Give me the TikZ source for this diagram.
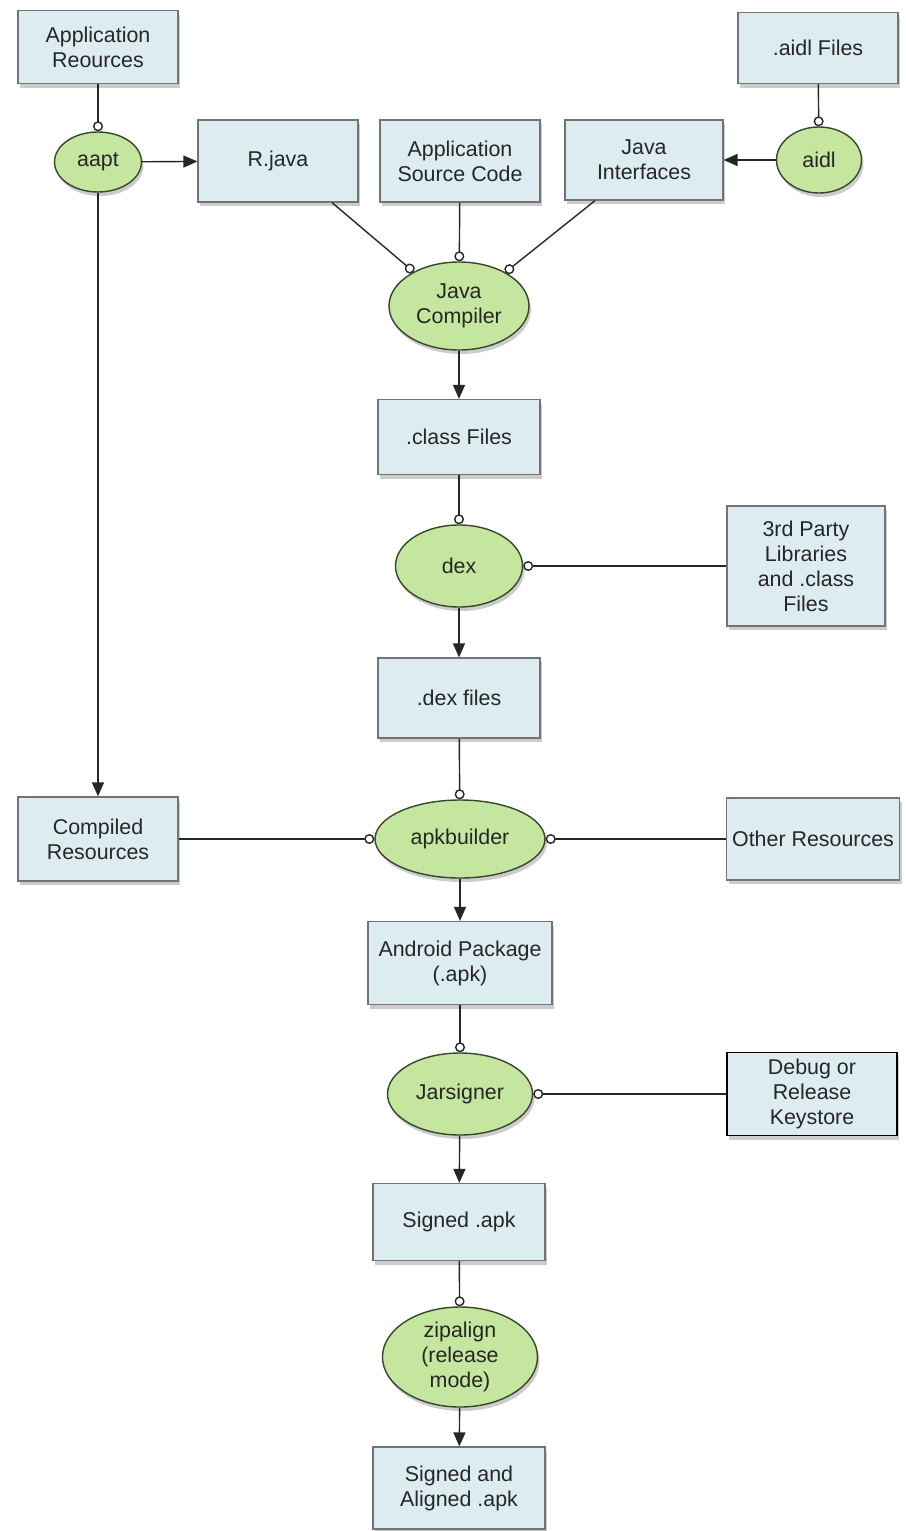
\documentclass[tikz,border=0pt]{standalone}
\usepackage{fontspec}
\setmainfont{Liberation Sans}
\usetikzlibrary{positioning, arrows.meta, shapes, shadows}

\definecolor{boxblue}{RGB}{221,236,240}
\definecolor{toolgreen}{RGB}{196,230,158}
\definecolor{tooledge}{RGB}{55,70,45}

\begin{document}
\begin{tikzpicture}[x=0.5pt, y=-0.5pt,
    every node/.style={font=\fontsize{10.7}{12.5}\selectfont, text=black!85, align=center},
    file/.style={draw=black!55, fill=boxblue, line width=0.6pt, minimum width=80pt, minimum height=40pt, inner sep=1pt,
      drop shadow={opacity=0.4, shadow xshift=1pt, shadow yshift=-2pt}},
    tool/.style={ellipse, draw=tooledge, fill=toolgreen, line width=0.7pt, inner sep=0pt,
      drop shadow={opacity=0.4, shadow xshift=1pt, shadow yshift=-2pt}},
    flow/.style={draw=black!85, line width=0.7pt, -{Triangle[length=7pt, width=6pt]}},
    feed/.style={draw=black!85, line width=0.7pt, -{Circle[open, length=5pt]}}]
  \useasboundingbox (0,0) rectangle (905,1531);

  % sources at the top
  \node[file, minimum height=36.5pt] (appres) at (98,47) {Application\\Reources};
  \node[file, minimum height=35.5pt] (aidlfiles) at (818,48) {.aidl Files};
  \node[tool, minimum width=43.5pt, minimum height=30pt] (aapt) at (98,162) {aapt};
  \node[file, minimum height=41pt] (rjava) at (278,161) {R.java};
  \node[file, minimum height=41pt] (src) at (460,161) {Application\\Source Code};
  \node[file, minimum width=79pt, minimum height=40pt] (jiface) at (644,160) {Java\\Interfaces};
  \node[tool, minimum width=42.5pt, minimum height=33pt] (aidl) at (819,160) {aidl};

  % main chain
  \node[tool, minimum width=70pt, minimum height=44pt] (javac) at (459,306) {Java\\Compiler};
  \node[file, minimum width=81pt, minimum height=37.5pt] (classes) at (459,437) {.class Files};
  \node[tool, minimum width=63.5pt, minimum height=41pt] (dex) at (459,566) {dex};
  \node[file, minimum width=79pt, minimum height=60pt] (libs) at (806,566) {3rd Party\\Libraries\\and .class\\Files};
  \node[file, minimum width=81pt, minimum height=40pt] (dexfiles) at (459,698) {.dex files};
  \node[file, minimum height=42pt] (compres) at (98,839) {Compiled\\Resources};
  \node[tool, minimum width=85pt, minimum height=39pt] (apkb) at (460,839) {apkbuilder};
  \node[file, minimum width=86.5pt, minimum height=41pt] (otherres) at (813,839) {Other Resources};
  \node[file, minimum width=92pt, minimum height=41.5pt] (apk) at (460,963) {Android Package\\(.apk)};
  \node[tool, minimum width=72.5pt, minimum height=41pt] (jar) at (460,1094) {Jarsigner};
  \node[file, draw=black, line width=0.8pt, minimum width=85pt, minimum height=41.5pt] (keystore) at (812,1094) {Debug or\\Release\\Keystore};
  \node[file, minimum width=86pt, minimum height=38.5pt] (signed) at (459,1222) {Signed .apk};
  \node[tool, minimum width=77.5pt, minimum height=50pt] (zip) at (460,1357) {zipalign\\(release\\mode)};
  \node[file, minimum width=86pt, minimum height=41pt] (aligned) at (459,1488) {Signed and\\Aligned .apk};

  % connectors
  \draw[feed] (appres) -- (aapt);
  \draw[flow] (aapt) -- (rjava);
  \draw[flow] (aapt) -- (compres);
  \draw[feed] (aidlfiles) -- (aidl);
  \draw[flow] (aidl) -- (jiface);
  \draw[feed] ([xshift=27pt]rjava.south) -- (javac.143);
  \draw[feed] (src) -- (javac);
  \draw[feed] ([xshift=-24.5pt]jiface.south) -- (javac.36);
  \draw[flow] (javac) -- (classes);
  \draw[feed] (classes) -- (dex);
  \draw[feed] (libs) -- (dex);
  \draw[flow] (dex) -- (dexfiles);
  \draw[feed] (dexfiles) -- (apkb);
  \draw[feed] (compres) -- (apkb);
  \draw[feed] (otherres) -- (apkb);
  \draw[flow] (apkb) -- (apk);
  \draw[feed] (apk) -- (jar);
  \draw[feed] (keystore) -- (jar);
  \draw[flow] (jar) -- (signed);
  \draw[feed] (signed) -- (zip);
  \draw[flow] (zip) -- (aligned);
\end{tikzpicture}
\end{document}
